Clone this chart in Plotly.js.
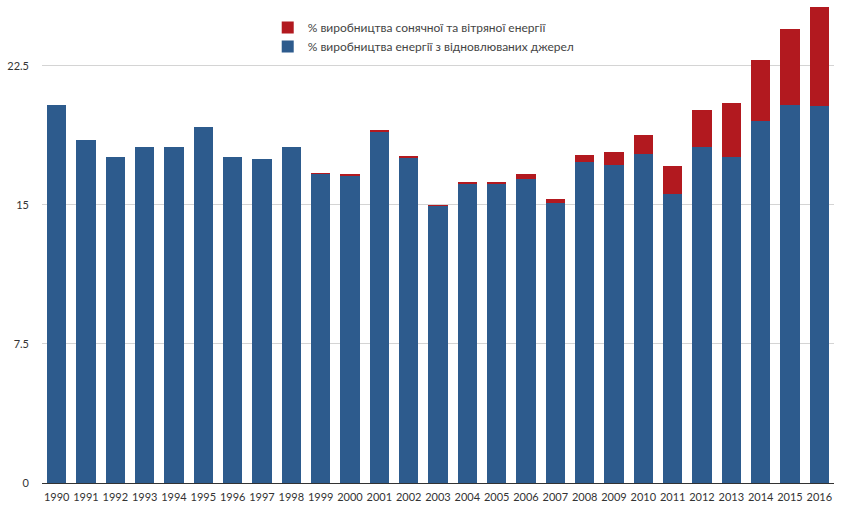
<!DOCTYPE html>
<html>
<head>
<meta charset="utf-8">
<script src="https://cdn.plot.ly/plotly-3.0.1.min.js"></script>
<style>
  html, body { margin: 0; padding: 0; background: #fff; }
  #plot { width: 850px; height: 511px; }
</style>
</head>
<body>
<div id="plot"></div>
<script>
var years = ['1990', '1991', '1992', '1993', '1994', '1995', '1996', '1997', '1998', '1999',
             '2000', '2001', '2002', '2003', '2004', '2005', '2006', '2007', '2008', '2009',
             '2010', '2011', '2012', '2013', '2014', '2015', '2016'];

// частка відновлюваних джерел (без сонця та вітру)
var renewables = [20.4, 18.48, 17.58, 18.12, 18.12, 19.21, 17.58, 17.48, 18.12, 16.65,
                  16.58, 18.94, 17.55, 14.95, 16.12, 16.12, 16.42, 15.11, 17.32, 17.16,
                  17.75, 15.61, 18.11, 17.61, 19.54, 20.38, 20.35];

// додаток сонячної та вітряної енергії
var solarWind = [0, 0, 0, 0, 0, 0, 0, 0, 0, 0.06,
                 0.09, 0.09, 0.08, 0.07, 0.14, 0.14, 0.27, 0.23, 0.38, 0.72,
                 1.03, 1.49, 2.0, 2.89, 3.29, 4.12, 5.35];

var yTicks = [0, 7.5, 15, 22.5];
var yTickLabels = ['0', '7.5', '15', '22.5'];

var bar1 = {
    x: years,
    y: renewables,
    name: '% виробництва енергії з відновлюваних джерел',
    type: 'bar',
    marker: {color: '#2d5b8d', line: {width: 0}},
    hoverinfo: 'x+y'
};

var bar2 = {
    x: years,
    y: solarWind,
    name: '% виробництва сонячної та вітряної енергії',
    type: 'bar',
    marker: {color: '#b2191f', line: {width: 0}},
    hoverinfo: 'x+y'
};

var layout = {
    barmode: 'stack',
    bargap: 0.34,
    width: 850,
    height: 511,
    margin: {l: 42, r: 16, t: 1, b: 28},
    paper_bgcolor: '#fff',
    plot_bgcolor: '#fff',
    font: {family: 'Lato, "Noto Sans", sans-serif', size: 11, color: '#333'},
    showlegend: true,
    legend: {
        x: 0.285, y: 0.975, xanchor: 'left', yanchor: 'top',
        traceorder: 'reversed',
        font: {size: 12, color: '#444'},
        bgcolor: 'rgba(0,0,0,0)',
        itemwidth: 30,
        tracegroupgap: 0
    },
    xaxis: {
        type: 'category',
        tickfont: {size: 11, color: '#333'},
        showgrid: false,
        showline: false,
        ticks: 'outside',
        ticklen: 4,
        tickcolor: 'rgba(0,0,0,0)',
        fixedrange: true
    },
    yaxis: {
        range: [0, 26],
        tickvals: yTicks,
        ticktext: yTickLabels,
        showgrid: true,
        gridcolor: '#d4d4d4',
        gridwidth: 1,
        zeroline: true,
        zerolinecolor: '#333',
        zerolinewidth: 1,
        ticks: '',
        ticklabelstandoff: 12,
        tickfont: {size: 11, color: '#333'},
        fixedrange: true
    }
};

Plotly.newPlot('plot', [bar1, bar2], layout, {displayModeBar: false, staticPlot: true});
</script>
</body>
</html>
